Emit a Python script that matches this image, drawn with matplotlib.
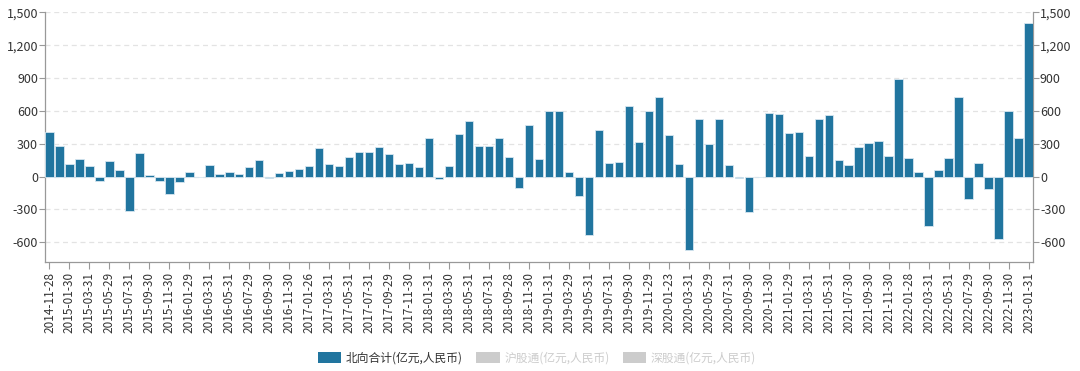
import numpy as np
import matplotlib
matplotlib.use('Agg')
import matplotlib.pyplot as plt
from matplotlib.patches import Patch

plt.rcParams['font.family'] = ['Noto Sans CJK SC', 'DejaVu Sans']

# monthly northbound net inflow, 2014-11 .. 2023-01 (100m CNY)
north = [403, 279,
         115, 158, 100, -36, 142, 61, -312, 215, 18, -42, -161, -48,
         39, 0, 109, 24, 42, 27, 91, 152, -9, 37, 52, 67,
         97, 258, 112, 100, 176, 221, 221, 270, 206, 118, 124, 85,
         348, -24, 97, 385, 503, 282, 282, 355, 176, -103, 467, 161,
         603, 603, 42, -176, -530, 424, 121, 130, 642, 318, 603, 727,
         382, 115, -673, 530, 300, 524, 103, -15, -324, 0, 576, 570,
         397, 409, 188, 524, 558, 155, 109, 270, 303, 327, 185, 888,
         167, 39, -448, 61, 167, 727, -206, 127, -109, -570, 600, 348,
         1406]

tick_labels = ['2014-11-28', '2015-01-30', '2015-03-31', '2015-05-29', '2015-07-31',
               '2015-09-30', '2015-11-30', '2016-01-29', '2016-03-31', '2016-05-31',
               '2016-07-29', '2016-09-30', '2016-11-30', '2017-01-26', '2017-03-31',
               '2017-05-31', '2017-07-31', '2017-09-29', '2017-11-30', '2018-01-31',
               '2018-03-30', '2018-05-31', '2018-07-31', '2018-09-28', '2018-11-30',
               '2019-01-31', '2019-03-29', '2019-05-31', '2019-07-31', '2019-09-30',
               '2019-11-29', '2020-01-23', '2020-03-31', '2020-05-29', '2020-07-31',
               '2020-09-30', '2020-11-30', '2021-01-29', '2021-03-31', '2021-05-31',
               '2021-07-30', '2021-09-30', '2021-11-30', '2022-01-28', '2022-03-31',
               '2022-05-31', '2022-07-29', '2022-09-30', '2022-11-30', '2023-01-31']

legend_labels = ['北向合计(亿元,人民币)', '沪股通(亿元,人民币)', '深股通(亿元,人民币)']

blue = '#21759f'
axis_col = '#999999'
text_col = '#333333'

fig = plt.figure(figsize=(10.8, 3.71), dpi=100)
ax = fig.add_axes([45 / 1080, 1 - 262 / 371, (1033 - 45) / 1080, (262 - 12.3) / 371])

x = np.arange(len(north))
ax.bar(x, north, width=0.84, color=blue, edgecolor='#d6e6f0', linewidth=0.6, zorder=3)

ax.set_xlim(-0.45, len(north) - 0.55)
ax.set_ylim(-780, 1500)
yt = np.arange(-600, 1501, 300)
ax.set_yticks(yt)
ax.set_yticklabels([f'{v:,}' for v in yt])
ax.yaxis.grid(True, linestyle=(0, (4, 3)), color='#e3e3e3', linewidth=0.9, zorder=0)

ax.set_xticks(x[::2])
ax.set_xticklabels(tick_labels, rotation=90)

ax.tick_params(axis='y', which='both', left=True, right=True, labelleft=True, labelright=True,
               length=4, width=0.8, color=axis_col, labelcolor=text_col, labelsize=9, pad=1)
ax.tick_params(axis='x', length=5, width=0.8, color=axis_col, labelcolor=text_col,
               labelsize=8.5, pad=2)

ax.spines['top'].set_visible(False)
for s in ['left', 'right', 'bottom']:
    ax.spines[s].set_color(axis_col)
    ax.spines[s].set_linewidth(0.9)

handles = [Patch(facecolor=blue, edgecolor='none'),
           Patch(facecolor='#cccccc', edgecolor='none'),
           Patch(facecolor='#cccccc', edgecolor='none')]
leg = fig.legend(handles, legend_labels, loc='center', bbox_to_anchor=(537 / 1080, 1 - 358 / 371),
                 ncol=3, frameon=False, fontsize=8.5, handlelength=2.0, handleheight=1.0,
                 handletextpad=0.4, columnspacing=1.1)
leg.get_texts()[0].set_color(text_col)
leg.get_texts()[1].set_color('#cccccc')
leg.get_texts()[2].set_color('#cccccc')

fig.savefig('out.png', dpi=100)
plt.close(fig)
